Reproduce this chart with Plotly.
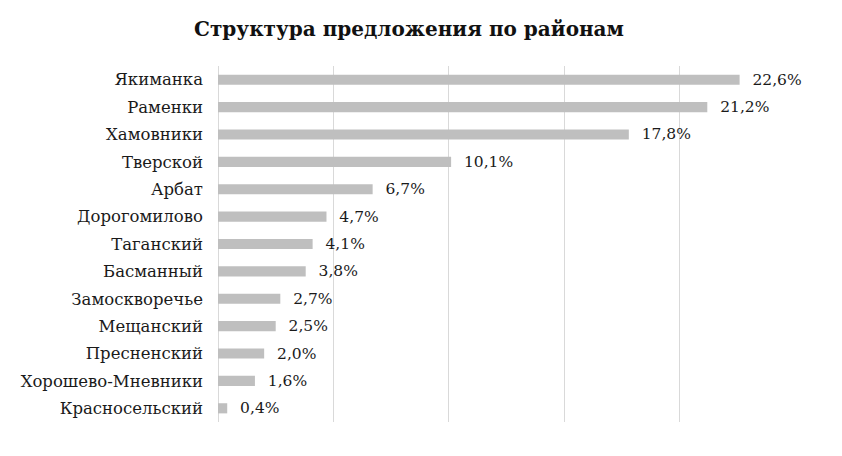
import plotly.graph_objects as go

districts = ["Якиманка", "Раменки", "Хамовники", "Тверской", "Арбат", "Дорогомилово",
             "Таганский", "Басманный", "Замоскворечье", "Мещанский", "Пресненский",
             "Хорошево-Мневники", "Красносельский"]
shares = [22.6, 21.2, 17.8, 10.1, 6.7, 4.7, 4.1, 3.8, 2.7, 2.5, 2.0, 1.6, 0.4]

FONT = "DejaVu Serif"

fig = go.Figure(go.Bar(
    x=shares, y=districts, orientation="h",
    marker=dict(color="#bfbfbf", line=dict(width=0)),
    width=0.37,
    texttemplate="\u00a0\u00a0%{x:.1f}%",
    textposition="outside",
    constraintext="none",
    cliponaxis=False,
    textfont=dict(family=FONT, size=15.5, color="#1a1a1a"),
))

fig.update_layout(
    width=842, height=456,
    margin=dict(l=218, r=47, t=66, b=34),
    paper_bgcolor="white", plot_bgcolor="white",
    separators=",.",
    showlegend=False,
    title=dict(text="<b>Структура предложения по районам</b>",
               font=dict(family=FONT, size=20, color="#111111"),
               x=409/842, xanchor="center", xref="container",
               y=1 - 29/456, yanchor="middle", yref="container"),
    xaxis=dict(range=[0, 25], dtick=5, showgrid=True, gridcolor="#d9d9d9", gridwidth=1,
               showticklabels=False, zeroline=True, zerolinecolor="#d9d9d9", zerolinewidth=1,
               showline=False, fixedrange=True),
    yaxis=dict(autorange="reversed", showgrid=False, showline=False, ticks="",
               ticklabelstandoff=14,
               tickfont=dict(family=FONT, size=16.5, color="#1a1a1a")),
    bargap=0.63,
)

fig.write_html("out.html")
